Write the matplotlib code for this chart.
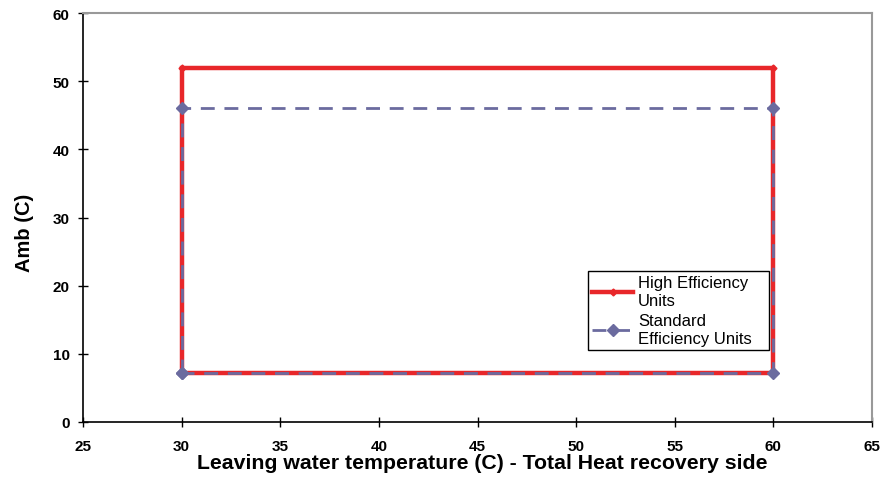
import matplotlib
matplotlib.use("Agg")
import matplotlib.pyplot as plt

plt.rcParams['font.family'] = ['Liberation Sans', 'DejaVu Sans']

# Data
he_x = [30, 30, 60, 60, 30]
he_y = [7.2, 52, 52, 7.2, 7.2]
se_x = [30, 30, 60, 60, 30]
se_y = [7.2, 46, 46, 7.2, 7.2]
he_label = "High Efficiency\nUnits"
se_label = "Standard\nEfficiency Units"
x_ticks = [25, 30, 35, 40, 45, 50, 55, 60, 65]
y_ticks = [0, 10, 20, 30, 40, 50, 60]
x_title = "Leaving water temperature (C) - Total Heat recovery side"
y_title = "Amb (C)"

fig = plt.figure(figsize=(8.93, 4.81), dpi=100)
ax = fig.add_axes([83/893, 1-423/481, (872-83)/893, (423-14)/481])

ax.plot(he_x, he_y, color='#e8272a', lw=3.2, marker='D', markersize=3.5,
        markeredgecolor='#e8272a', label=he_label, zorder=3, solid_joinstyle='miter')
ax.plot(se_x, se_y, color='#6b6b9f', lw=2.0, dashes=(5, 3.5), marker='D', markersize=6,
        markeredgecolor='#6b6b9f', label=se_label, zorder=4)

ax.set_xlim(25, 65)
ax.set_ylim(0, 60)
ax.set_xticks(x_ticks, labels=[str(v) for v in x_ticks])
ax.set_yticks(y_ticks, labels=[str(v) for v in y_ticks])
ax.tick_params(direction='inout', length=7, width=1, labelsize=11)
ax.tick_params(axis='x', pad=9)
ax.tick_params(axis='y', pad=6)
for lab in ax.get_xticklabels() + ax.get_yticklabels():
    lab.set_fontweight('bold')
    lab.set_fontsize(11)

for s in ['left', 'bottom']:
    ax.spines[s].set_color('black')
    ax.spines[s].set_linewidth(1.2)
for s in ['top', 'right']:
    ax.spines[s].set_color('#999999')
    ax.spines[s].set_linewidth(1.5)

ax.set_xlabel(x_title, fontsize=15.3, fontweight='bold')
ax.set_ylabel(y_title, fontsize=14.5, fontweight='bold')
ax.xaxis.set_label_coords((482.5-83)/789, (423-454)/409)
ax.yaxis.set_label_coords((34-83)/789, (423-233)/409)

leg = ax.legend(loc='upper left',
                bbox_to_anchor=((588-83)/789, (423-357)/409, (769-588)/789, (357-272)/409),
                mode='expand', borderaxespad=0,
                fancybox=False, framealpha=1, edgecolor='black', fontsize=12,
                handlelength=2.45, handletextpad=0.3, labelspacing=0.35,
                borderpad=0.25)
leg.get_frame().set_linewidth(1.0)

fig.savefig("out.png", dpi=100)
